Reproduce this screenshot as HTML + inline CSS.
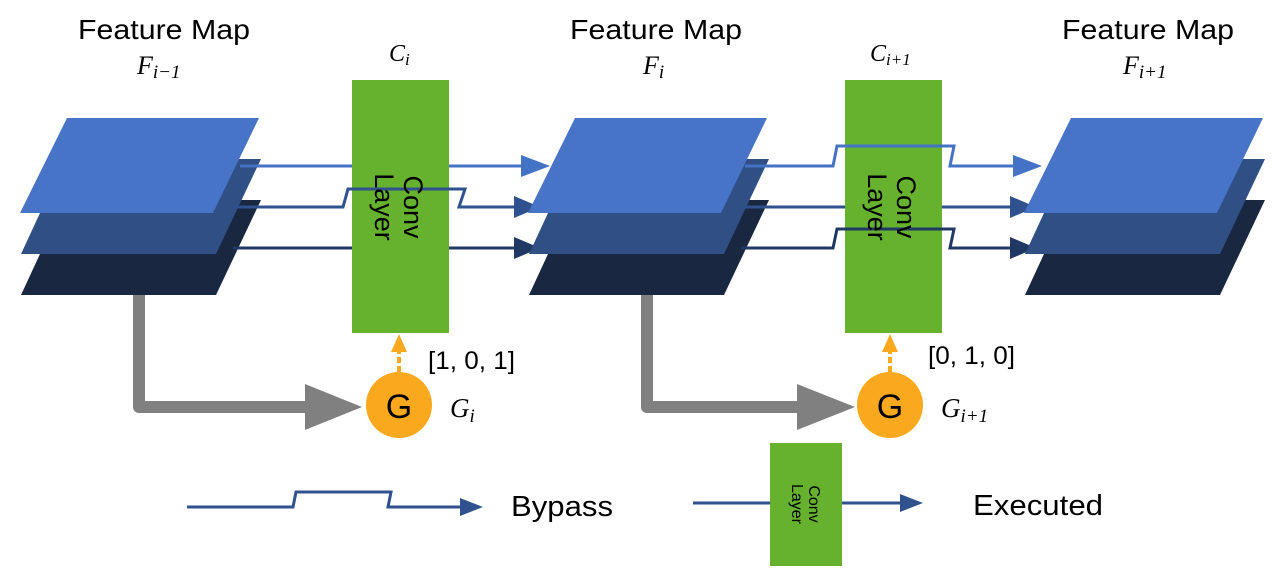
<!DOCTYPE html>
<html><head><meta charset="utf-8"><style>
html,body{margin:0;padding:0;background:#fff;}
svg{display:block;}
.t{font-family:"Liberation Sans",sans-serif;fill:#000;}
.m{font-family:"Liberation Serif",serif;font-style:italic;fill:#000;}
</style></head><body>
<svg width="1280" height="578" viewBox="0 0 1280 578" xmlns="http://www.w3.org/2000/svg">
<!-- titles -->
<text class="t" x="78" y="39" font-size="28" textLength="172" lengthAdjust="spacingAndGlyphs">Feature Map</text>
<text class="t" x="570" y="39" font-size="28" textLength="172" lengthAdjust="spacingAndGlyphs">Feature Map</text>
<text class="t" x="1062" y="39" font-size="28" textLength="172" lengthAdjust="spacingAndGlyphs">Feature Map</text>
<text class="m" x="137" y="74" font-size="26">F<tspan font-size="19" dy="4">i−1</tspan></text>
<text class="m" x="643" y="74" font-size="26">F<tspan font-size="19" dy="4">i</tspan></text>
<text class="m" x="1123" y="74" font-size="26">F<tspan font-size="19" dy="4">i+1</tspan></text>
<text class="m" x="389" y="61" font-size="24">C<tspan font-size="17" dy="4">i</tspan></text>
<text class="m" x="870" y="61" font-size="24">C<tspan font-size="17" dy="4">i+1</tspan></text>

<!-- lines first (behind stacks) -->
<g fill="none" stroke-width="3">
<polyline points="225,166 528,166" stroke="#4472C4"/>
<polyline points="225,207 343,207 348,189 465,189 459,207 520,207" stroke="#2F528F"/>
<polyline points="225,248 520,248" stroke="#1F3864"/>
<polyline points="730,166 833,166 837,146 954,146 950,166 1020,166" stroke="#4472C4"/>
<polyline points="730,207 1015,207" stroke="#2F528F"/>
<polyline points="730,248 833,248 837,229 954,229 950,248 1015,248" stroke="#1F3864"/>
</g>
<polygon points="521,155 550,166 521,177" fill="#4472C4"/>
<polygon points="514,196 540,207 514,218" fill="#2F528F"/>
<polygon points="514,237 540,248 514,259" fill="#1F3864"/>
<polygon points="1013,155 1042,166 1013,177" fill="#4472C4"/>
<polygon points="1010,196 1036,207 1010,218" fill="#2F528F"/>
<polygon points="1010,237 1036,248 1010,259" fill="#1F3864"/>

<!-- stacks -->
<g>
<polygon points="65,200 261,200 216,295 21,295" fill="#1A2741"/>
<polygon points="65,159 261,159 216,254 21,254" fill="#2F4F85"/>
<polygon points="67,118 259,118 213,213 20,213" fill="#4774C6"/>
</g>
<g transform="translate(508,0)">
<polygon points="65,200 261,200 216,295 21,295" fill="#1A2741"/>
<polygon points="65,159 261,159 216,254 21,254" fill="#2F4F85"/>
<polygon points="67,118 259,118 213,213 20,213" fill="#4774C6"/>
</g>
<g transform="translate(1004,0)">
<polygon points="65,200 261,200 216,295 21,295" fill="#1A2741"/>
<polygon points="65,159 261,159 216,254 21,254" fill="#2F4F85"/>
<polygon points="67,118 259,118 213,213 20,213" fill="#4774C6"/>
</g>
<!-- redraw lines leaving stacks over them (right side of source stacks) -->
<g fill="none" stroke-width="3">
<polyline points="240,166 352,166" stroke="#4472C4"/>
<polyline points="235,207 343,207" stroke="#2F528F"/>
<polyline points="233,248 352,248" stroke="#1F3864"/>
<polyline points="745,166 833,166" stroke="#4472C4"/>
<polyline points="745,207 845,207" stroke="#2F528F"/>
<polyline points="741,248 833,248" stroke="#1F3864"/>
</g>

<!-- green bars -->
<rect x="352" y="80" width="97" height="253" fill="#66B22E"/>
<rect x="845" y="80" width="97" height="253" fill="#66B22E"/>
<g fill="none" stroke-width="3">
<polyline points="348,189 465,189" stroke="#2F528F"/>
<polyline points="837,146 954,146" stroke="#4472C4"/>
<polyline points="837,229 954,229" stroke="#1F3864"/>
</g>

<!-- conv layer text -->
<text class="t" font-size="27" text-anchor="middle" transform="translate(400,207) rotate(90)" dy="-4">Conv</text>
<text class="t" font-size="27" text-anchor="middle" transform="translate(400,207) rotate(90)" dy="25">Layer</text>
<text class="t" font-size="27" text-anchor="middle" transform="translate(893,207) rotate(90)" dy="-4">Conv</text>
<text class="t" font-size="27" text-anchor="middle" transform="translate(893,207) rotate(90)" dy="25">Layer</text>

<!-- gray arrows -->
<polyline points="139,295 139,407 310,407" fill="none" stroke="#808080" stroke-width="12" stroke-linejoin="round"/>
<polygon points="305,384 362,407 305,430" fill="#808080"/>
<polyline points="647,295 647,407 800,407" fill="none" stroke="#808080" stroke-width="12" stroke-linejoin="round"/>
<polygon points="797,384 855,407 797,430" fill="#808080"/>

<!-- G circles -->
<line x1="399" y1="372" x2="399" y2="350" stroke="#FAA91F" stroke-width="4" stroke-dasharray="6,3"/>
<polygon points="391,352 399,334 407,352" fill="#FAA91F"/>
<ellipse cx="399" cy="405" rx="33" ry="33" fill="#FAA91F"/>
<text class="t" x="399" y="418" font-size="34" text-anchor="middle">G</text>
<line x1="890" y1="372" x2="890" y2="350" stroke="#FAA91F" stroke-width="4" stroke-dasharray="6,3"/>
<polygon points="882,352 890,334 898,352" fill="#FAA91F"/>
<ellipse cx="890" cy="405" rx="33" ry="33" fill="#FAA91F"/>
<text class="t" x="890" y="418" font-size="34" text-anchor="middle">G</text>

<text class="t" x="428" y="369" font-size="25" textLength="87" lengthAdjust="spacingAndGlyphs">[1, 0, 1]</text>
<text class="t" x="928" y="364" font-size="25" textLength="87" lengthAdjust="spacingAndGlyphs">[0, 1, 0]</text>
<text class="m" x="450" y="417" font-size="27">G<tspan font-size="19" dy="5">i</tspan></text>
<text class="m" x="941" y="417" font-size="27">G<tspan font-size="19" dy="5">i+1</tspan></text>

<!-- legend -->
<polyline points="187,507 293,507 296,492 391,492 388,507 465,507" fill="none" stroke="#2F528F" stroke-width="3"/>
<polygon points="460,498 483,507 460,516" fill="#2F528F"/>
<text class="t" x="511" y="516" font-size="29" textLength="102" lengthAdjust="spacingAndGlyphs">Bypass</text>
<line x1="693" y1="503" x2="905" y2="503" stroke="#2F528F" stroke-width="3"/>
<polygon points="900,494 923,503 900,512" fill="#2F528F"/>
<rect x="770" y="443" width="72" height="123" fill="#66B22E"/>
<text class="t" font-size="16" text-anchor="middle" transform="translate(806,504) rotate(90)" dy="-3">Conv</text>
<text class="t" font-size="16" text-anchor="middle" transform="translate(806,504) rotate(90)" dy="14">Layer</text>
<text class="t" x="973" y="515" font-size="29" textLength="130" lengthAdjust="spacingAndGlyphs">Executed</text>
</svg>
</body></html>
